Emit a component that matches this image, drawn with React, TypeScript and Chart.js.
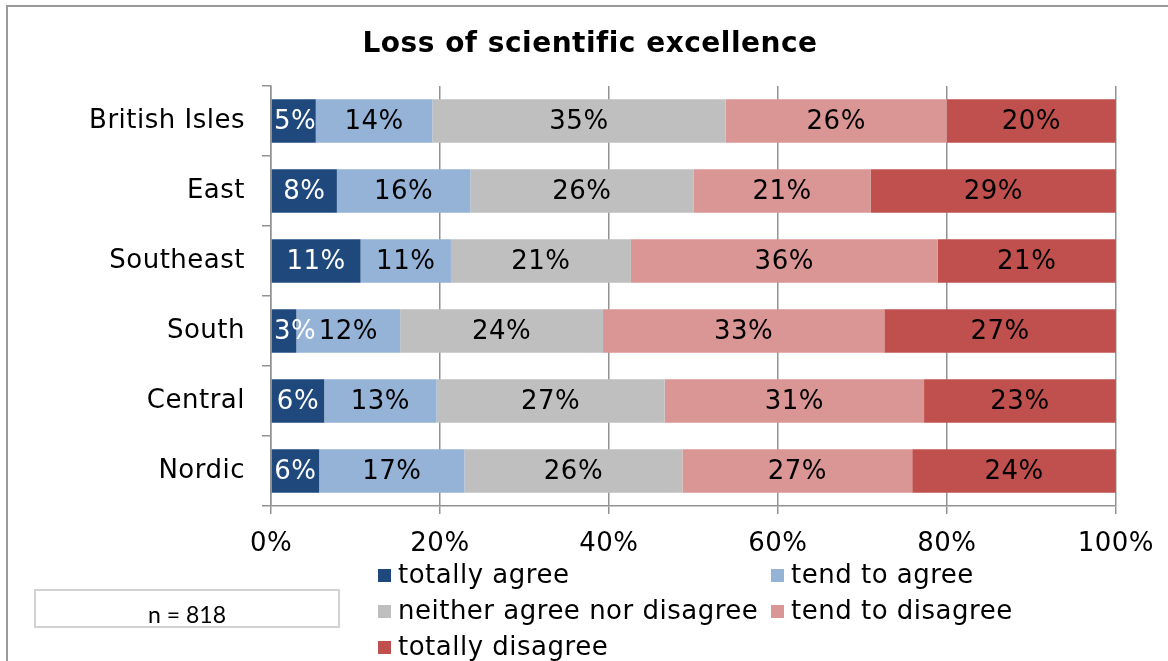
import React, { useEffect, useRef } from 'react';
import { Chart, registerables } from 'chart.js';

Chart.register(...registerables);

const categories = ['British Isles', 'East', 'Southeast', 'South', 'Central', 'Nordic'];
const seriesNames = ['totally agree', 'tend to agree', 'neither agree nor disagree', 'tend to disagree', 'totally disagree'];
const totallyAgree = [5.3, 7.8, 10.6, 3.0, 6.3, 5.7];
const tendToAgree = [13.8, 15.8, 10.7, 12.3, 13.3, 17.2];
const neitherNor = [34.7, 26.4, 21.3, 24.0, 27.0, 25.8];
const tendToDisagree = [26.2, 21.0, 36.3, 33.3, 30.7, 27.2];
const totallyDisagree = [20.0, 29.0, 21.1, 27.4, 22.7, 24.1];
const xTickValues = [0, 20, 40, 60, 80, 100];
const seriesColors = ['#1F497D', '#95B3D7', '#BFBFBF', '#DA9694', '#C0504D'];
const titleText = 'Loss of scientific excellence';
const sampleNote = 'n = 818';

const FONT = '"DejaVu Sans", Verdana, sans-serif';

const wideText = {
  id: 'wideText',
  beforeDraw(chart: any) {
    chart.ctx.letterSpacing = '0.5px';
  },
};

const barLabels = {
  id: 'barLabels',
  afterDatasetsDraw(chart: any) {
    const ctx = chart.ctx;
    const area = chart.chartArea;
    ctx.save();
    ctx.letterSpacing = '0.5px';
    ctx.font = `26px ${FONT}`;
    ctx.textAlign = 'center';
    ctx.textBaseline = 'middle';
    chart.data.datasets.forEach((ds: any, i: number) => {
      const meta = chart.getDatasetMeta(i);
      meta.data.forEach((bar: any, j: number) => {
        const v = ds.data[j];
        const p = bar.getProps(['x', 'y', 'base'], true);
        const txt = Math.round(v) + '%';
        const w = ctx.measureText(txt).width;
        let cx = (p.x + p.base) / 2;
        cx = Math.max(cx, area.left + 3 + w / 2);
        ctx.fillStyle = i === 0 ? '#ffffff' : '#000000';
        ctx.fillText(txt, cx, p.y + 1);
      });
    });
    ctx.restore();
  },
};

const gridLegend = {
  id: 'gridLegend',
  afterDraw(chart: any) {
    const ctx = chart.ctx;
    const area = chart.chartArea;
    const colX = [area.left + 107, area.left + 500];
    const rowY = [area.bottom + 69, area.bottom + 105, area.bottom + 141];
    ctx.save();
    ctx.letterSpacing = '0.5px';
    ctx.font = `26px ${FONT}`;
    ctx.textAlign = 'left';
    ctx.textBaseline = 'middle';
    chart.data.datasets.forEach((ds: any, i: number) => {
      const x = colX[i % 2];
      const y = rowY[Math.floor(i / 2)];
      ctx.fillStyle = ds.backgroundColor;
      ctx.fillRect(x, y - 6, 13, 13);
      ctx.fillStyle = '#000000';
      ctx.fillText(ds.label, x + 20, y + 1);
    });
    ctx.restore();
  },
};

export default function App() {
  const canvasRef = useRef<HTMLCanvasElement>(null);

  useEffect(() => {
    if (!canvasRef.current) return;
    const seriesData = [totallyAgree, tendToAgree, neitherNor, tendToDisagree, totallyDisagree];
    const chart = new Chart(canvasRef.current, {
      type: 'bar',
      data: {
        labels: categories,
        datasets: seriesNames.map((name, i) => ({
          label: name,
          data: seriesData[i],
          backgroundColor: seriesColors[i],
          borderWidth: 0,
          barPercentage: 0.62,
          categoryPercentage: 1,
        })),
      },
      options: {
        indexAxis: 'y',
        responsive: false,
        animation: false,
        devicePixelRatio: 1,
        layout: { padding: { left: 64, right: 52, top: 0, bottom: 0 } },
        plugins: {
          legend: { display: false },
          tooltip: { enabled: false },
          title: {
            display: true,
            text: titleText,
            color: '#000000',
            font: { family: FONT, size: 28, weight: 'bold' },
            padding: { top: 28, bottom: 24.4 },
          },
        },
        scales: {
          x: {
            type: 'linear',
            stacked: true,
            min: 0,
            max: 100,
            afterBuildTicks: (scale: any) => {
              scale.ticks = xTickValues.map((v) => ({ value: v }));
            },
            afterFit: (scale: any) => {
              scale.height = 155;
            },
            ticks: {
              color: '#000000',
              font: { family: FONT, size: 26 },
              padding: 15,
              maxRotation: 0,
              callback: (v: any) => v + '%',
            },
            grid: {
              color: '#929292',
              lineWidth: 1.5,
              drawOnChartArea: true,
              drawTicks: true,
              tickLength: 8,
            },
            border: { display: true, color: '#929292', width: 1.5 },
          },
          y: {
            type: 'category',
            stacked: true,
            afterFit: (scale: any) => {
              scale.width = 207;
            },
            ticks: {
              color: '#000000',
              font: { family: FONT, size: 26 },
              padding: 17,
            },
            grid: {
              offset: true,
              drawOnChartArea: false,
              drawTicks: true,
              tickLength: 9,
              color: '#929292',
              lineWidth: 1.5,
            },
            border: { display: true, color: '#929292', width: 1.5 },
          },
        },
      } as any,
      plugins: [wideText, barLabels, gridLegend],
    });
    return () => chart.destroy();
  }, []);

  return (
    <div
      style={{
        position: 'absolute',
        left: 0,
        top: 0,
        width: 1168,
        height: 661,
        overflow: 'hidden',
        background: '#ffffff',
      }}
    >
      <div
        style={{
          position: 'absolute',
          left: 6,
          top: 5,
          width: 1200,
          height: 700,
          border: '2px solid #9a9a9a',
          boxSizing: 'border-box',
        }}
      />
      <canvas
        ref={canvasRef}
        width={1168}
        height={661}
        style={{ position: 'absolute', left: 0, top: 0, display: 'block' }}
      />
      <div
        style={{
          position: 'absolute',
          left: 34,
          top: 589,
          width: 306,
          height: 39,
          boxSizing: 'border-box',
          border: '2px solid #d2d2d2',
          display: 'flex',
          alignItems: 'flex-end',
          justifyContent: 'center',
          fontFamily: 'Lato, "Liberation Sans", sans-serif',
          fontSize: 23,
          lineHeight: 1,
          color: '#000000',
        }}
      >
        {sampleNote}
      </div>
    </div>
  );
}
